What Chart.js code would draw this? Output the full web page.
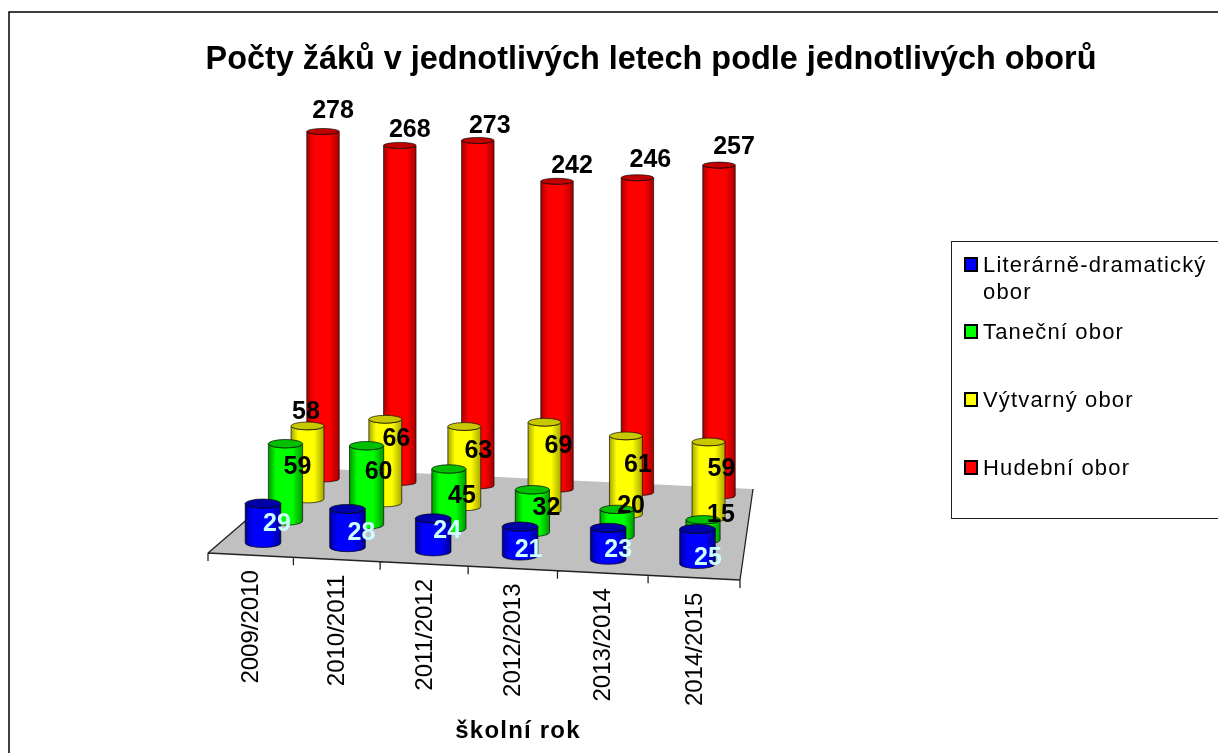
<!DOCTYPE html>
<html>
<head>
<meta charset="utf-8">
<title>Počty žáků</title>
<script src="https://cdn.jsdelivr.net/npm/chart.js@4/dist/chart.umd.js"></script>
<style>
    html, body { margin: 0; padding: 0; background: #fff; }
    canvas { display: block; }
</style>
</head>
<body>
<canvas id="chart" width="1218" height="753"></canvas>
<script>
const categories = ['2009/2010', '2010/2011', '2011/2012', '2012/2013', '2013/2014', '2014/2015'];
const seriesNames = ['Literárně-dramatický obor', 'Taneční obor', 'Výtvarný obor', 'Hudební obor'];
const literarni = [29, 28, 24, 21, 23, 25];
const tanecni = [59, 60, 45, 32, 20, 15];
const vytvarny = [58, 66, 63, 69, 61, 59];
const hudebni = [278, 268, 273, 242, 246, 257];

const chartTitle = 'Počty žáků v jednotlivých letech podle jednotlivých oborů';
const axisTitle = 'školní rok';

// Colours per series: body, darker edge, darker lid
const bodyColors = ['#0000ff', '#00ff00', '#ffff00', '#ff0000'];
const edgeColors = ['#000098', '#009800', '#a8a800', '#a80000'];
const lidColors = ['#0000a8', '#00c000', '#c8c800', '#c00000'];
const labelColors = ['#ccffff', '#000', '#000', '#000'];

// The fake 3D view: where each depth row sits on the floor
const rows = [
    { x0: 263, step: 86.9, base: 543, tilt: 4.2, unit: 1.36, ry: 4.5 },
    { x0: 285.5, step: 83.5, base: 521, tilt: 3.8, unit: 1.31, ry: 4.2 },
    { x0: 307.5, step: 80.2, base: 499, tilt: 3.9, unit: 1.26, ry: 3.9 },
    { x0: 323, step: 79.2, base: 479, tilt: 3.4, unit: 1.25, ry: 3 }
];
const bow = -0.6; // perspective makes the spacing grow to the right
const grow = 0.006; // and the columns a little taller

// Floor corners
const floor = { fl: [208, 553], fr: [740, 580], br: [753, 489], bl: [307, 468] };

// Where Excel left each data label, relative to the top of its cylinder
const labelShift = [
    [[14, 21], [14, 24], [14, 13], [8.5, 24], [10, 22], [10.5, 29]],
    [[12, 23], [12, 26], [13, 27], [14, 18], [14, -3], [18, -5]],
    [[-1.5, -14], [11, 20], [14, 25], [14, 24], [12, 29], [13, 27]],
    [[10, -20], [10, -15], [12, -14], [15, -15], [13, -18], [15, -18]]
];

const fontName = '"Liberation Sans", Arial, sans-serif';

function project(chart, index, px, py) {
    const xs = chart.scales.x;
    const ys = chart.scales.y;
    const first = xs.getPixelForValue(0);
    const spacing = xs.getPixelForValue(1) - first;
    const zero = ys.getPixelForValue(0);
    const perUnit = zero - ys.getPixelForValue(1);
    const row = rows[index];
    const i = (px - first) / spacing;
    const n = (zero - py) / perUnit;
    return {
        x: row.x0 + row.step * i + bow * i * (categories.length - 1 - i),
        y: row.base + row.tilt * i - row.unit * (1 + grow * i) * n,
        scale: row.step / spacing
    };
}

class CylinderController extends Chart.BarController {
    draw() {
        const meta = this._cachedMeta;
        const ctx = this.chart.ctx;
        const index = this.index;
        const ry = rows[index].ry;
        meta.data.forEach(bar => {
            const top = project(this.chart, index, bar.x, bar.y);
            const bottom = project(this.chart, index, bar.x, bar.base);
            const rx = bar.width * top.scale / 2;
            const grad = ctx.createLinearGradient(top.x - rx, 0, top.x + rx, 0);
            grad.addColorStop(0, edgeColors[index]);
            grad.addColorStop(0.22, bodyColors[index]);
            grad.addColorStop(0.7, bodyColors[index]);
            grad.addColorStop(1, edgeColors[index]);

            ctx.save();
            ctx.beginPath();
            ctx.moveTo(top.x - rx, top.y);
            ctx.lineTo(bottom.x - rx, bottom.y);
            ctx.ellipse(bottom.x, bottom.y, rx, ry, 0, Math.PI, 0, true);
            ctx.lineTo(top.x + rx, top.y);
            ctx.ellipse(top.x, top.y, rx, ry, 0, 0, Math.PI, false);
            ctx.closePath();
            ctx.fillStyle = grad;
            ctx.fill();
            ctx.lineWidth = 1;
            ctx.strokeStyle = 'rgba(0,0,0,0.65)';
            ctx.stroke();

            ctx.beginPath();
            ctx.ellipse(top.x, top.y, rx, ry, 0, 0, Math.PI * 2);
            ctx.fillStyle = lidColors[index];
            ctx.fill();
            ctx.stroke();
            ctx.restore();
        });
    }
}
CylinderController.id = 'cylinder';
CylinderController.defaults = Object.assign({}, Chart.BarController.defaults);
CylinderController.overrides = Chart.BarController.overrides;
Chart.register(CylinderController);

function frontPoint(t) {
    const n = categories.length;
    const x = floor.fl[0] + (floor.fr[0] - floor.fl[0]) * t / n - 0.65 * t * (n - t);
    const y = floor.fl[1] + (floor.fr[1] - floor.fl[1]) * (x - floor.fl[0]) / (floor.fr[0] - floor.fl[0]);
    return { x, y };
}

const sceneryPlugin = {
    id: 'scenery',
    beforeDraw(chart) {
        const ctx = chart.ctx;
        ctx.save();
        ctx.fillStyle = '#fff';
        ctx.fillRect(0, 0, chart.width, chart.height);
        // frame, cut by the right and bottom of the picture
        ctx.strokeStyle = '#000';
        ctx.lineWidth = 1.5;
        ctx.beginPath();
        ctx.moveTo(9, chart.height);
        ctx.lineTo(9, 12);
        ctx.lineTo(chart.width, 12);
        ctx.stroke();
        ctx.restore();
    },
    beforeDatasetsDraw(chart) {
        const ctx = chart.ctx;
        ctx.save();
        ctx.beginPath();
        ctx.moveTo(floor.fl[0], floor.fl[1]);
        ctx.lineTo(floor.bl[0], floor.bl[1]);
        ctx.lineTo(floor.br[0], floor.br[1]);
        ctx.lineTo(floor.fr[0], floor.fr[1]);
        ctx.closePath();
        ctx.fillStyle = '#c0c0c0';
        ctx.fill();

        ctx.strokeStyle = '#222';
        ctx.lineWidth = 1.3;
        ctx.beginPath();
        ctx.moveTo(floor.fl[0], floor.fl[1]);
        ctx.lineTo(floor.fr[0], floor.fr[1]);
        ctx.moveTo(floor.fl[0], floor.fl[1]);
        ctx.lineTo(floor.bl[0], floor.bl[1]);
        ctx.moveTo(floor.fr[0], floor.fr[1]);
        ctx.lineTo(floor.br[0], floor.br[1]);
        for (let t = 0; t <= categories.length; t++) {
            const p = frontPoint(t);
            ctx.moveTo(p.x, p.y);
            ctx.lineTo(p.x, p.y + 8);
        }
        ctx.stroke();

        // category labels hang off the slanted front edge
        ctx.fillStyle = '#000';
        ctx.font = '24px ' + fontName;
        ctx.textAlign = 'right';
        ctx.textBaseline = 'middle';
        categories.forEach((label, i) => {
            const p = frontPoint(i + 0.5);
            ctx.save();
            ctx.translate(p.x + 1, p.y + 15);
            ctx.rotate(-Math.PI / 2);
            ctx.fillText(label, 0, 0);
            ctx.restore();
        });

        ctx.font = 'bold 24px ' + fontName;
        ctx.letterSpacing = '1.2px';
        ctx.textAlign = 'center';
        ctx.fillText(axisTitle, 518, 731);
        ctx.letterSpacing = '0px';
        ctx.restore();
    },
    afterDatasetsDraw(chart) {
        const ctx = chart.ctx;
        ctx.save();
        // value labels sit above every cylinder
        ctx.font = 'bold 25px ' + fontName;
        ctx.textAlign = 'center';
        ctx.textBaseline = 'middle';
        chart.data.datasets.forEach((dataset, index) => {
            chart.getDatasetMeta(index).data.forEach((bar, i) => {
                const top = project(chart, index, bar.x, bar.y);
                ctx.fillStyle = labelColors[index];
                ctx.fillText(dataset.data[i], top.x + labelShift[index][i][0], top.y + labelShift[index][i][1]);
            });
        });

        // legend box, its right side runs off the picture
        ctx.strokeStyle = '#222';
        ctx.lineWidth = 1;
        ctx.fillStyle = '#fff';
        ctx.fillRect(951.5, 241.5, 300, 277);
        ctx.strokeRect(951.5, 241.5, 300, 277);
        ctx.font = '22px ' + fontName;
        ctx.letterSpacing = '1.15px';
        ctx.textAlign = 'left';
        chart.data.datasets.forEach((dataset, index) => {
            const y = 265 + index * 68 - (index > 0 ? 1 : 0);
            ctx.fillStyle = bodyColors[index];
            ctx.lineWidth = 2;
            ctx.strokeStyle = '#000';
            ctx.fillRect(965, y - 7, 12, 13);
            ctx.strokeRect(965, y - 7, 12, 13);
            ctx.fillStyle = '#000';
            const words = dataset.label;
            if (ctx.measureText(words).width > 230) {
                const cut = words.lastIndexOf(' ');
                ctx.fillText(words.slice(0, cut), 983, y + 1);
                ctx.fillText(words.slice(cut + 1), 983, y + 28);
            } else {
                ctx.fillText(words, 983, y + 1);
            }
        });
        ctx.letterSpacing = '0px';
        ctx.restore();
    }
};

const allValues = [literarni, tanecni, vytvarny, hudebni];

new Chart(document.getElementById('chart'), {
    type: 'cylinder',
    data: {
        labels: categories,
        datasets: seriesNames.map((name, i) => ({
            label: name,
            data: allValues[i],
            backgroundColor: bodyColors[i],
            grouped: false,
            barPercentage: 0.41,
            categoryPercentage: 1
        }))
    },
    options: {
        responsive: false,
        animation: false,
        layout: { padding: { left: 84 } },
        plugins: {
            legend: { display: false },
            tooltip: { enabled: false },
            title: {
                display: true,
                text: chartTitle,
                color: '#000',
                font: { family: fontName, size: 32.4, weight: 'bold' },
                padding: { top: 41, bottom: 10 }
            }
        },
        scales: {
            x: { type: 'category', offset: true, display: false },
            y: { type: 'linear', min: 0, max: 300, display: false }
        }
    },
    plugins: [sceneryPlugin]
});
</script>
</body>
</html>
